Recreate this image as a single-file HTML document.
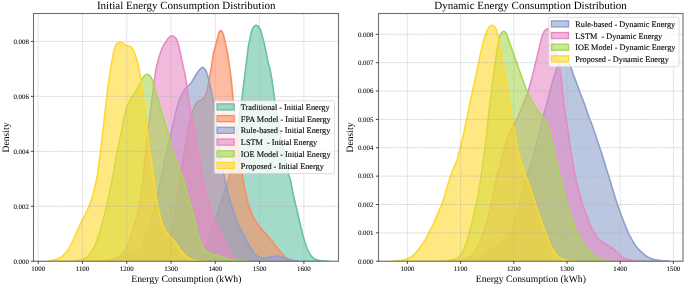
<!DOCTYPE html>
<html><head><meta charset="utf-8"><title>Energy Consumption Distribution</title>
<style>
html,body{margin:0;padding:0;background:#fff;}
body{width:685px;height:285px;overflow:hidden;font-family:"Liberation Serif",serif;}
svg{display:block;will-change:transform;}
svg text{font-family:"Liberation Serif",serif;fill:#000;text-rendering:geometricPrecision;}
.g{stroke:#b0b0b0;stroke-opacity:0.62;stroke-width:0.8;stroke-dasharray:2.25 0.75;}
.gv{stroke-opacity:0.52;}
.t{stroke:#333;stroke-width:0.9;}
.tl{font-size:6.9px;stroke:#000;stroke-width:0.07px;}
.lg{white-space:pre;font-size:8.25px;stroke:#000;stroke-width:0.12px;}
.ti{font-size:11px;}
.al{font-size:9.7px;}
</style></head><body>
<svg width="685" height="285" viewBox="0 0 685 285">
<rect width="685" height="285" fill="#fff"/>
<defs><clipPath id="cl"><rect x="33.5" y="13.5" width="305.0" height="247.75"/></clipPath><clipPath id="cr"><rect x="378.5" y="13.5" width="304.5" height="247.75"/></clipPath></defs>
<g clip-path="url(#cl)">
<path d="M186.00,261.25C187.00,261.17 190.00,261.17 192.00,260.74C194.00,260.32 196.23,259.73 198.00,258.72C199.77,257.71 201.27,256.61 202.60,254.67C203.93,252.73 204.77,250.20 206.00,247.08C207.23,243.97 208.72,239.68 210.00,236.00C211.28,232.32 212.57,228.42 213.70,225.00C214.83,221.58 215.48,219.67 216.80,215.50C218.12,211.33 220.10,204.58 221.60,200.00C223.10,195.42 224.35,192.50 225.80,188.00C227.25,183.50 229.13,177.33 230.30,173.00C231.47,168.67 232.02,165.83 232.80,162.00C233.58,158.17 234.23,154.50 235.00,150.00C235.77,145.50 236.63,140.83 237.40,135.00C238.17,129.17 238.90,120.70 239.60,115.00C240.30,109.30 241.05,104.92 241.60,100.80C242.15,96.68 242.42,94.17 242.90,90.30C243.38,86.43 244.00,81.65 244.50,77.60C245.00,73.55 245.43,69.77 245.90,66.00C246.37,62.23 246.88,58.25 247.30,55.00C247.72,51.75 247.98,49.08 248.40,46.50C248.82,43.92 249.17,42.35 249.80,39.50C250.43,36.65 251.13,31.78 252.20,29.40C253.27,27.02 254.90,25.28 256.20,25.20C257.50,25.12 258.83,26.52 260.00,28.90C261.17,31.28 262.15,35.45 263.20,39.50C264.25,43.55 265.43,49.17 266.30,53.20C267.17,57.23 267.83,61.23 268.40,63.70C268.97,66.17 269.17,65.68 269.70,68.00C270.23,70.32 270.93,73.53 271.60,77.60C272.27,81.67 273.15,88.53 273.70,92.40C274.25,96.27 274.43,97.87 274.90,100.80C275.37,103.73 275.98,106.80 276.50,110.00C277.02,113.20 277.42,116.50 278.00,120.00C278.58,123.50 279.33,127.33 280.00,131.00C280.67,134.67 281.30,138.33 282.00,142.00C282.70,145.67 283.48,149.50 284.20,153.00C284.92,156.50 285.60,159.60 286.30,163.00C287.00,166.40 287.70,170.57 288.40,173.40C289.10,176.23 289.97,177.90 290.50,180.00C291.03,182.10 290.90,182.53 291.60,186.00C292.30,189.47 293.65,196.13 294.70,200.80C295.75,205.47 296.93,209.88 297.90,214.00C298.87,218.12 299.53,221.47 300.50,225.50C301.47,229.53 302.65,234.50 303.70,238.20C304.75,241.90 305.75,245.05 306.80,247.69C307.85,250.33 308.93,252.36 310.00,254.07C311.07,255.77 311.97,256.92 313.20,257.91C314.43,258.91 315.48,259.51 317.40,260.04C319.32,260.56 322.77,260.85 324.70,261.05C326.63,261.25 328.28,261.22 329.00,261.25Z" fill="#66c2a5" fill-opacity="0.6" stroke="#66c2a5" stroke-width="1.6" stroke-linejoin="round"/>
<path d="M140.00,261.25C141.33,261.17 145.50,261.12 148.00,260.74C150.50,260.37 152.92,259.87 155.00,259.02C157.08,258.18 158.83,257.17 160.50,255.68C162.17,254.20 163.67,252.23 165.00,250.12C166.33,248.01 167.40,245.77 168.50,243.04C169.60,240.30 170.68,237.87 171.60,233.70C172.52,229.53 173.23,222.95 174.00,218.00C174.77,213.05 175.47,208.67 176.20,204.00C176.93,199.33 177.77,194.00 178.40,190.00C179.03,186.00 179.32,184.30 180.00,180.00C180.68,175.70 181.75,168.93 182.50,164.20C183.25,159.47 183.83,155.82 184.50,151.60C185.17,147.38 185.88,142.77 186.50,138.90C187.12,135.03 187.63,131.38 188.20,128.40C188.77,125.42 189.13,123.85 189.90,121.00C190.67,118.15 191.90,113.97 192.80,111.30C193.70,108.63 194.37,106.68 195.30,105.00C196.23,103.32 197.20,102.15 198.40,101.20C199.60,100.25 201.23,100.55 202.50,99.30C203.77,98.05 204.95,96.50 206.00,93.70C207.05,90.90 208.10,85.78 208.80,82.50C209.50,79.22 209.73,76.75 210.20,74.00C210.67,71.25 211.10,69.17 211.60,66.00C212.10,62.83 212.65,58.00 213.20,55.00C213.75,52.00 214.38,49.98 214.90,48.00C215.42,46.02 215.72,45.33 216.30,43.10C216.88,40.87 217.85,36.53 218.40,34.60C218.95,32.67 219.20,32.18 219.60,31.50C220.00,30.82 220.40,30.50 220.80,30.50C221.20,30.50 221.58,30.82 222.00,31.50C222.42,32.18 222.73,32.67 223.30,34.60C223.87,36.53 224.85,40.70 225.40,43.10C225.95,45.50 226.20,47.02 226.60,49.00C227.00,50.98 227.30,52.00 227.80,55.00C228.30,58.00 229.07,63.23 229.60,67.00C230.13,70.77 230.52,73.37 231.00,77.60C231.48,81.83 232.13,88.53 232.50,92.40C232.87,96.27 232.82,97.03 233.20,100.80C233.58,104.57 234.25,110.13 234.80,115.00C235.35,119.87 235.92,125.00 236.50,130.00C237.08,135.00 237.68,140.00 238.30,145.00C238.92,150.00 239.57,155.27 240.20,160.00C240.83,164.73 241.43,169.07 242.10,173.40C242.77,177.73 243.32,181.43 244.20,186.00C245.08,190.57 246.35,196.75 247.40,200.80C248.45,204.85 249.68,207.93 250.50,210.30C251.32,212.67 251.02,212.55 252.30,215.00C253.58,217.45 256.22,222.17 258.20,225.00C260.18,227.83 262.20,229.67 264.20,232.00C266.20,234.33 268.50,236.94 270.20,239.00C271.90,241.06 273.00,242.57 274.40,244.35C275.80,246.14 276.97,247.81 278.60,249.71C280.23,251.62 282.63,254.27 284.20,255.79C285.77,257.30 286.70,258.05 288.00,258.82C289.30,259.60 290.50,260.04 292.00,260.44C293.50,260.85 296.17,261.12 297.00,261.25Z" fill="#fc8d62" fill-opacity="0.6" stroke="#fc8d62" stroke-width="1.6" stroke-linejoin="round"/>
<path d="M104.00,261.25C105.17,261.05 108.63,260.54 111.00,260.04C113.37,259.53 115.82,258.97 118.20,258.21C120.58,257.46 123.18,256.16 125.30,255.48C127.42,254.81 129.27,254.52 130.90,254.17C132.53,253.81 133.82,253.86 135.10,253.36C136.38,252.85 137.55,252.21 138.60,251.13C139.65,250.05 140.35,249.00 141.40,246.88C142.45,244.76 143.77,241.30 144.90,238.40C146.03,235.50 147.10,232.90 148.20,229.50C149.30,226.10 150.05,223.25 151.50,218.00C152.95,212.75 155.38,204.00 156.90,198.00C158.42,192.00 159.62,186.33 160.60,182.00C161.58,177.67 162.12,175.50 162.80,172.00C163.48,168.50 163.85,165.25 164.70,161.00C165.55,156.75 166.83,151.25 167.90,146.50C168.97,141.75 170.18,136.42 171.10,132.50C172.02,128.58 172.63,126.35 173.40,123.00C174.17,119.65 174.87,115.75 175.70,112.40C176.53,109.05 177.42,105.88 178.40,102.90C179.38,99.92 180.55,96.78 181.60,94.50C182.65,92.22 183.65,90.62 184.70,89.20C185.75,87.78 186.85,87.05 187.90,86.00C188.95,84.95 189.95,84.30 191.00,82.90C192.05,81.50 192.97,79.53 194.20,77.60C195.43,75.67 197.03,73.03 198.40,71.30C199.77,69.57 201.17,67.37 202.40,67.20C203.63,67.03 204.88,68.73 205.80,70.30C206.72,71.87 207.20,74.15 207.90,76.60C208.60,79.05 209.30,81.85 210.00,85.00C210.70,88.15 211.50,92.17 212.10,95.50C212.70,98.83 213.03,101.25 213.60,105.00C214.17,108.75 214.85,113.50 215.50,118.00C216.15,122.50 216.83,127.33 217.50,132.00C218.17,136.67 218.83,141.33 219.50,146.00C220.17,150.67 220.82,155.43 221.50,160.00C222.18,164.57 222.97,169.77 223.60,173.40C224.23,177.03 224.50,178.28 225.30,181.80C226.10,185.32 227.38,190.67 228.40,194.50C229.42,198.33 230.35,201.30 231.40,204.80C232.45,208.30 233.57,212.30 234.70,215.50C235.83,218.70 236.88,221.10 238.20,224.00C239.52,226.90 241.17,230.01 242.60,232.90C244.03,235.79 245.38,238.66 246.80,241.32C248.22,243.97 249.68,246.59 251.10,248.80C252.52,251.01 253.90,253.15 255.30,254.57C256.70,255.99 257.93,256.71 259.50,257.30C261.07,257.89 262.77,258.18 264.70,258.11C266.63,258.05 268.98,257.25 271.10,256.90C273.22,256.54 275.65,256.02 277.40,255.99C279.15,255.95 280.03,256.22 281.60,256.70C283.17,257.17 284.87,258.18 286.80,258.82C288.73,259.46 291.17,260.14 293.20,260.54C295.23,260.95 298.03,261.13 299.00,261.25Z" fill="#8da0cb" fill-opacity="0.6" stroke="#8da0cb" stroke-width="1.6" stroke-linejoin="round"/>
<path d="M101.00,261.25C102.15,261.05 105.52,260.51 107.90,260.04C110.28,259.56 113.20,259.23 115.30,258.42C117.40,257.61 118.93,256.43 120.50,255.18C122.07,253.93 123.47,252.70 124.70,250.93C125.93,249.16 126.85,247.04 127.90,244.55C128.95,242.07 129.95,239.18 131.00,236.00C132.05,232.82 133.13,229.00 134.20,225.50C135.27,222.00 136.52,218.50 137.40,215.00C138.28,211.50 138.75,209.17 139.50,204.50C140.25,199.83 141.30,191.08 141.90,187.00C142.50,182.92 142.63,184.15 143.10,180.00C143.57,175.85 144.15,167.88 144.70,162.10C145.25,156.32 145.90,150.40 146.40,145.30C146.90,140.20 147.23,135.38 147.70,131.50C148.17,127.62 148.65,126.08 149.20,122.00C149.75,117.92 150.33,112.50 151.00,107.00C151.67,101.50 152.48,94.58 153.20,89.00C153.92,83.42 154.72,77.35 155.30,73.50C155.88,69.65 156.20,68.23 156.70,65.90C157.20,63.57 157.72,61.62 158.30,59.50C158.88,57.38 159.47,55.28 160.20,53.20C160.93,51.12 161.77,48.87 162.70,47.00C163.63,45.13 164.80,43.53 165.80,42.00C166.80,40.47 167.67,38.85 168.70,37.80C169.73,36.75 170.92,35.75 172.00,35.70C173.08,35.65 174.37,36.68 175.20,37.50C176.03,38.32 176.23,38.45 177.00,40.60C177.77,42.75 178.98,47.12 179.80,50.40C180.62,53.68 181.20,57.02 181.90,60.30C182.60,63.58 183.42,67.32 184.00,70.10C184.58,72.88 184.82,73.63 185.40,77.00C185.98,80.37 186.73,85.28 187.50,90.30C188.27,95.32 189.17,101.82 190.00,107.10C190.83,112.38 191.70,117.40 192.50,122.00C193.30,126.60 193.98,130.12 194.80,134.70C195.62,139.28 196.52,144.58 197.40,149.50C198.28,154.42 199.23,159.65 200.10,164.20C200.97,168.75 201.87,173.17 202.60,176.80C203.33,180.43 203.57,182.13 204.50,186.00C205.43,189.87 206.90,195.25 208.20,200.00C209.50,204.75 211.12,210.83 212.30,214.50C213.48,218.17 214.32,219.83 215.30,222.00C216.28,224.17 217.24,225.60 218.20,227.50C219.16,229.40 219.87,230.78 221.05,233.40C222.23,236.02 223.89,240.16 225.30,243.24C226.71,246.31 228.10,249.46 229.50,251.84C230.90,254.22 232.30,256.14 233.70,257.51C235.10,258.87 236.18,259.45 237.90,260.04C239.62,260.63 242.32,260.85 244.00,261.05C245.68,261.25 247.33,261.22 248.00,261.25Z" fill="#e78ac3" fill-opacity="0.6" stroke="#e78ac3" stroke-width="1.6" stroke-linejoin="round"/>
<path d="M74.00,261.25C74.73,261.13 76.78,260.91 78.40,260.54C80.02,260.17 82.12,259.75 83.70,259.02C85.28,258.30 86.50,257.54 87.90,256.19C89.30,254.84 90.87,252.87 92.10,250.93C93.33,248.99 94.25,247.04 95.30,244.55C96.35,242.07 97.35,239.18 98.40,236.00C99.45,232.82 100.63,228.83 101.60,225.50C102.57,222.17 103.33,219.50 104.20,216.00C105.07,212.50 105.83,208.88 106.80,204.50C107.77,200.12 109.03,194.20 110.00,189.70C110.97,185.20 111.72,182.10 112.60,177.50C113.48,172.90 114.33,167.47 115.30,162.10C116.27,156.73 117.35,150.57 118.40,145.30C119.45,140.03 120.77,134.63 121.60,130.50C122.43,126.37 122.73,123.75 123.40,120.50C124.07,117.25 124.83,113.70 125.60,111.00C126.37,108.30 127.15,106.30 128.00,104.30C128.85,102.30 129.67,100.72 130.70,99.00C131.73,97.28 133.03,95.82 134.20,94.00C135.37,92.18 136.77,89.78 137.70,88.10C138.63,86.42 138.98,85.55 139.80,83.90C140.62,82.25 141.77,79.60 142.60,78.20C143.43,76.80 144.05,76.15 144.80,75.50C145.55,74.85 146.30,74.27 147.10,74.30C147.90,74.33 148.77,74.80 149.60,75.70C150.43,76.60 151.15,77.27 152.10,79.70C153.05,82.13 154.25,86.78 155.30,90.30C156.35,93.82 157.35,97.12 158.40,100.80C159.45,104.48 160.52,108.78 161.60,112.40C162.68,116.02 163.85,119.13 164.90,122.50C165.95,125.87 166.87,128.80 167.90,132.60C168.93,136.40 170.05,141.43 171.10,145.30C172.15,149.17 173.15,152.65 174.20,155.80C175.25,158.95 176.35,161.40 177.40,164.20C178.45,167.00 179.45,169.80 180.50,172.60C181.55,175.40 182.47,177.10 183.70,181.00C184.93,184.90 186.68,191.73 187.90,196.00C189.12,200.27 190.07,203.10 191.00,206.60C191.93,210.10 192.78,214.20 193.50,217.00C194.22,219.80 194.48,220.23 195.30,223.40C196.12,226.57 197.35,232.47 198.40,236.00C199.45,239.53 200.55,242.25 201.60,244.55C202.65,246.86 203.48,248.33 204.70,249.82C205.92,251.30 207.13,252.56 208.90,253.46C210.67,254.35 213.18,254.61 215.30,255.18C217.42,255.75 219.50,256.26 221.60,256.90C223.70,257.54 225.80,258.47 227.90,259.02C230.00,259.58 231.40,259.90 234.20,260.24C237.00,260.58 242.23,260.88 244.70,261.05C247.17,261.22 248.28,261.22 249.00,261.25Z" fill="#a6d854" fill-opacity="0.6" stroke="#a6d854" stroke-width="1.6" stroke-linejoin="round"/>
<path d="M46.60,261.25C47.17,261.18 48.77,261.05 50.00,260.85C51.23,260.64 52.67,260.37 54.00,260.04C55.33,259.70 56.83,259.29 58.00,258.82C59.17,258.35 59.78,258.13 61.00,257.20C62.22,256.27 64.12,254.50 65.30,253.26C66.48,252.01 67.05,251.38 68.10,249.71C69.15,248.04 70.43,245.61 71.60,243.24C72.77,240.87 73.82,238.31 75.10,235.50C76.38,232.69 78.15,228.87 79.30,226.40C80.45,223.93 81.07,222.60 82.00,220.70C82.93,218.80 83.75,217.35 84.90,215.00C86.05,212.65 87.63,209.77 88.90,206.60C90.17,203.43 91.43,199.52 92.50,196.00C93.57,192.48 94.48,189.00 95.30,185.50C96.12,182.00 96.88,178.02 97.40,175.00C97.92,171.98 97.88,171.30 98.40,167.40C98.92,163.50 99.87,156.70 100.50,151.60C101.13,146.50 101.60,142.07 102.20,136.80C102.80,131.53 103.33,126.70 104.10,120.00C104.87,113.30 106.00,103.32 106.80,96.60C107.60,89.88 108.23,84.55 108.90,79.70C109.57,74.85 110.27,70.70 110.80,67.50C111.33,64.30 111.53,63.42 112.10,60.50C112.67,57.58 113.50,52.70 114.20,50.00C114.90,47.30 115.42,45.63 116.30,44.30C117.18,42.97 118.45,42.22 119.50,42.00C120.55,41.78 121.55,42.47 122.60,43.00C123.65,43.53 124.45,44.58 125.80,45.20C127.15,45.82 129.47,45.90 130.70,46.70C131.93,47.50 132.23,48.03 133.20,50.00C134.17,51.97 135.62,55.75 136.50,58.50C137.38,61.25 137.83,63.32 138.50,66.50C139.17,69.68 139.82,73.28 140.50,77.60C141.18,81.92 141.90,87.13 142.60,92.40C143.30,97.67 144.08,104.27 144.70,109.20C145.32,114.13 145.77,117.75 146.30,122.00C146.83,126.25 147.28,129.77 147.90,134.70C148.52,139.63 149.30,146.33 150.00,151.60C150.70,156.87 151.52,162.07 152.10,166.30C152.68,170.53 152.97,173.10 153.50,177.00C154.03,180.90 154.62,185.03 155.30,189.70C155.98,194.37 156.73,200.28 157.60,205.00C158.47,209.72 159.67,214.67 160.50,218.00C161.33,221.33 161.55,222.47 162.60,225.00C163.65,227.53 165.38,231.15 166.80,233.20C168.22,235.25 169.68,235.76 171.10,237.30C172.52,238.84 173.90,240.51 175.30,242.43C176.70,244.35 178.10,246.85 179.50,248.80C180.90,250.76 182.13,252.56 183.70,254.17C185.27,255.77 186.97,257.35 188.90,258.42C190.83,259.48 193.18,260.10 195.30,260.54C197.42,260.98 199.98,260.93 201.60,261.05C203.22,261.17 204.43,261.22 205.00,261.25Z" fill="#ffd92f" fill-opacity="0.6" stroke="#ffd92f" stroke-width="1.6" stroke-linejoin="round"/>
</g>
<line x1="38.20" y1="13.5" x2="38.20" y2="261.25" class="g gv"/>
<line x1="82.48" y1="13.5" x2="82.48" y2="261.25" class="g gv"/>
<line x1="126.76" y1="13.5" x2="126.76" y2="261.25" class="g gv"/>
<line x1="171.04" y1="13.5" x2="171.04" y2="261.25" class="g gv"/>
<line x1="215.32" y1="13.5" x2="215.32" y2="261.25" class="g gv"/>
<line x1="259.60" y1="13.5" x2="259.60" y2="261.25" class="g gv"/>
<line x1="303.88" y1="13.5" x2="303.88" y2="261.25" class="g gv"/>
<line x1="33.5" y1="261.25" x2="338.5" y2="261.25" class="g"/>
<line x1="33.5" y1="206.29" x2="338.5" y2="206.29" class="g"/>
<line x1="33.5" y1="151.33" x2="338.5" y2="151.33" class="g"/>
<line x1="33.5" y1="96.37" x2="338.5" y2="96.37" class="g"/>
<line x1="33.5" y1="41.41" x2="338.5" y2="41.41" class="g"/>
<rect x="33.5" y="13.5" width="305.0" height="247.75" fill="none" stroke="#707070" stroke-width="1.1"/>
<line x1="38.20" y1="261.25" x2="38.20" y2="263.85" class="t"/>
<text x="38.20" y="270.5" class="tl" text-anchor="middle">1000</text>
<line x1="82.48" y1="261.25" x2="82.48" y2="263.85" class="t"/>
<text x="82.48" y="270.5" class="tl" text-anchor="middle">1100</text>
<line x1="126.76" y1="261.25" x2="126.76" y2="263.85" class="t"/>
<text x="126.76" y="270.5" class="tl" text-anchor="middle">1200</text>
<line x1="171.04" y1="261.25" x2="171.04" y2="263.85" class="t"/>
<text x="171.04" y="270.5" class="tl" text-anchor="middle">1300</text>
<line x1="215.32" y1="261.25" x2="215.32" y2="263.85" class="t"/>
<text x="215.32" y="270.5" class="tl" text-anchor="middle">1400</text>
<line x1="259.60" y1="261.25" x2="259.60" y2="263.85" class="t"/>
<text x="259.60" y="270.5" class="tl" text-anchor="middle">1500</text>
<line x1="303.88" y1="261.25" x2="303.88" y2="263.85" class="t"/>
<text x="303.88" y="270.5" class="tl" text-anchor="middle">1600</text>
<line x1="30.9" y1="261.25" x2="33.5" y2="261.25" class="t"/>
<text x="28.9" y="263.60" class="tl" text-anchor="end">0.000</text>
<line x1="30.9" y1="206.29" x2="33.5" y2="206.29" class="t"/>
<text x="28.9" y="208.64" class="tl" text-anchor="end">0.002</text>
<line x1="30.9" y1="151.33" x2="33.5" y2="151.33" class="t"/>
<text x="28.9" y="153.68" class="tl" text-anchor="end">0.004</text>
<line x1="30.9" y1="96.37" x2="33.5" y2="96.37" class="t"/>
<text x="28.9" y="98.72" class="tl" text-anchor="end">0.006</text>
<line x1="30.9" y1="41.41" x2="33.5" y2="41.41" class="t"/>
<text x="28.9" y="43.76" class="tl" text-anchor="end">0.008</text>
<rect x="214.3" y="100.7" width="120.19999999999999" height="72.89999999999999" rx="1.8" fill="#fff" fill-opacity="0.8" stroke="#ccc" stroke-opacity="0.8" stroke-width="0.8"/>
<rect x="217.10000000000002" y="103.90" width="17.0" height="6.0" fill="#66c2a5" fill-opacity="0.6" stroke="#66c2a5" stroke-width="1.35"/>
<text x="240.85000000000002" y="109.90" class="lg" xml:space="preserve">Traditional - Initial Energy</text>
<rect x="217.10000000000002" y="115.62" width="17.0" height="6.0" fill="#fc8d62" fill-opacity="0.6" stroke="#fc8d62" stroke-width="1.35"/>
<text x="240.85000000000002" y="121.62" class="lg" xml:space="preserve">FPA Model - Initial Energy</text>
<rect x="217.10000000000002" y="127.34" width="17.0" height="6.0" fill="#8da0cb" fill-opacity="0.6" stroke="#8da0cb" stroke-width="1.35"/>
<text x="240.85000000000002" y="133.34" class="lg" xml:space="preserve">Rule-based - Initial Energy</text>
<rect x="217.10000000000002" y="139.06" width="17.0" height="6.0" fill="#e78ac3" fill-opacity="0.6" stroke="#e78ac3" stroke-width="1.35"/>
<text x="240.85000000000002" y="145.06" class="lg" xml:space="preserve">LSTM  - Initial Energy</text>
<rect x="217.10000000000002" y="150.78" width="17.0" height="6.0" fill="#a6d854" fill-opacity="0.6" stroke="#a6d854" stroke-width="1.35"/>
<text x="240.85000000000002" y="156.78" class="lg" xml:space="preserve">IOE Model - Initial Energy</text>
<rect x="217.10000000000002" y="162.50" width="17.0" height="6.0" fill="#ffd92f" fill-opacity="0.6" stroke="#ffd92f" stroke-width="1.35"/>
<text x="240.85000000000002" y="168.50" class="lg" xml:space="preserve">Proposed - Initial Energy</text>
<text x="186.2" y="9.35" class="ti" text-anchor="middle">Initial Energy Consumption Distribution</text>
<text x="186.3" y="281.65" class="al" text-anchor="middle">Energy Consumption (kWh)</text>
<text transform="translate(9.3,137.5) rotate(-90)" class="al" text-anchor="middle">Density</text>
<g clip-path="url(#cr)">
<path d="M455.00,261.25C456.50,261.15 461.32,260.90 464.00,260.64C466.68,260.39 468.98,260.14 471.10,259.73C473.22,259.33 475.07,258.77 476.70,258.21C478.33,257.66 479.50,257.10 480.90,256.39C482.30,255.68 483.70,254.84 485.10,253.96C486.50,253.09 487.90,252.08 489.30,251.13C490.70,250.19 492.10,249.24 493.50,248.30C494.90,247.35 496.30,246.43 497.70,245.46C499.10,244.50 500.50,243.61 501.90,242.53C503.30,241.45 504.82,240.29 506.10,239.00C507.38,237.71 508.65,236.20 509.60,234.80C510.55,233.40 511.15,232.32 511.80,230.60C512.45,228.88 512.62,227.45 513.50,224.50C514.38,221.55 515.97,216.93 517.10,212.90C518.23,208.87 519.25,204.52 520.30,200.30C521.35,196.08 522.35,191.65 523.40,187.60C524.45,183.55 525.55,179.20 526.60,176.00C527.65,172.80 528.65,171.42 529.70,168.40C530.75,165.38 531.83,161.75 532.90,157.90C533.97,154.05 535.05,149.52 536.10,145.30C537.15,141.08 538.25,136.40 539.20,132.60C540.15,128.80 541.10,125.35 541.80,122.50C542.50,119.65 542.82,117.72 543.40,115.50C543.98,113.28 544.70,111.30 545.30,109.20C545.90,107.10 546.43,105.00 547.00,102.90C547.57,100.80 548.17,98.70 548.70,96.60C549.23,94.50 549.57,92.77 550.20,90.30C550.83,87.83 551.67,84.62 552.50,81.80C553.33,78.98 554.38,75.88 555.20,73.40C556.02,70.92 556.55,68.67 557.40,66.90C558.25,65.13 559.02,63.78 560.30,62.80C561.58,61.82 563.82,61.05 565.10,61.00C566.38,60.95 567.10,61.67 568.00,62.50C568.90,63.33 569.68,64.18 570.50,66.00C571.32,67.82 571.97,70.77 572.90,73.40C573.83,76.03 575.05,78.98 576.10,81.80C577.15,84.62 578.15,87.48 579.20,90.30C580.25,93.12 581.35,95.90 582.40,98.70C583.45,101.50 584.45,104.12 585.50,107.10C586.55,110.08 587.78,114.12 588.70,116.60C589.62,119.08 590.03,119.43 591.00,122.00C591.97,124.57 593.18,128.12 594.50,132.00C595.82,135.88 597.47,140.98 598.90,145.30C600.33,149.62 601.87,154.05 603.10,157.90C604.33,161.75 605.37,165.38 606.30,168.40C607.23,171.42 607.83,173.15 608.70,176.00C609.57,178.85 610.50,182.17 611.50,185.50C612.50,188.83 613.65,192.67 614.70,196.00C615.75,199.33 616.75,202.45 617.80,205.50C618.85,208.55 619.93,211.42 621.00,214.30C622.07,217.18 623.13,220.05 624.20,222.80C625.27,225.55 626.20,228.13 627.40,230.80C628.60,233.47 629.97,236.24 631.40,238.80C632.83,241.36 634.50,244.12 636.00,246.17C637.50,248.23 638.73,249.51 640.40,251.13C642.07,252.75 644.13,254.62 646.00,255.89C647.87,257.15 649.77,258.01 651.60,258.72C653.43,259.43 655.02,259.78 657.00,260.14C658.98,260.49 661.38,260.66 663.50,260.85C665.62,261.03 668.67,261.18 669.70,261.25Z" fill="#8da0cb" fill-opacity="0.6" stroke="#8da0cb" stroke-width="1.6" stroke-linejoin="round"/>
<path d="M450.00,261.25C451.18,261.17 454.87,261.05 457.10,260.74C459.33,260.44 461.47,260.00 463.40,259.43C465.33,258.86 467.12,258.20 468.70,257.30C470.28,256.41 471.67,255.31 472.90,254.07C474.13,252.82 475.05,251.59 476.10,249.82C477.15,248.04 478.15,245.91 479.20,243.44C480.25,240.97 481.35,237.99 482.40,235.00C483.45,232.01 484.45,228.83 485.50,225.50C486.55,222.17 487.82,218.33 488.70,215.00C489.58,211.67 490.10,208.67 490.80,205.50C491.50,202.33 492.20,199.33 492.90,196.00C493.60,192.67 494.30,189.00 495.00,185.50C495.70,182.00 496.40,177.85 497.10,175.00C497.80,172.15 498.32,171.60 499.20,168.40C500.08,165.20 501.17,160.37 502.40,155.80C503.63,151.23 505.20,145.22 506.60,141.00C508.00,136.78 509.43,133.50 510.80,130.50C512.17,127.50 513.75,124.97 514.80,123.00C515.85,121.03 516.18,120.65 517.10,118.70C518.02,116.75 519.25,113.77 520.30,111.30C521.35,108.83 522.35,106.53 523.40,103.90C524.45,101.27 525.72,97.95 526.60,95.50C527.48,93.05 527.98,91.48 528.70,89.20C529.42,86.92 530.18,84.43 530.90,81.80C531.62,79.17 532.38,75.87 533.00,73.40C533.62,70.93 534.03,69.32 534.60,67.00C535.17,64.68 535.72,62.33 536.40,59.50C537.08,56.67 537.98,52.98 538.70,50.00C539.42,47.02 540.08,44.05 540.70,41.60C541.32,39.15 541.77,37.05 542.40,35.30C543.03,33.55 543.70,32.17 544.50,31.10C545.30,30.03 546.28,28.83 547.20,28.90C548.12,28.97 549.12,29.72 550.00,31.50C550.88,33.28 551.70,36.68 552.50,39.60C553.30,42.52 554.10,46.18 554.80,49.00C555.50,51.82 555.97,53.67 556.70,56.50C557.43,59.33 558.43,62.13 559.20,66.00C559.97,69.87 560.60,74.25 561.30,79.70C562.00,85.15 562.70,92.73 563.40,98.70C564.10,104.67 564.98,111.62 565.50,115.50C566.02,119.38 565.98,118.80 566.50,122.00C567.02,125.20 567.90,130.12 568.60,134.70C569.30,139.28 570.00,144.93 570.70,149.50C571.40,154.07 572.12,158.02 572.80,162.10C573.48,166.18 574.02,169.93 574.80,174.00C575.58,178.07 576.52,182.47 577.50,186.50C578.48,190.53 579.65,194.58 580.70,198.20C581.75,201.82 582.68,204.98 583.80,208.20C584.92,211.42 586.23,214.45 587.40,217.50C588.57,220.55 589.63,224.00 590.80,226.50C591.97,229.00 593.23,230.53 594.40,232.50C595.57,234.47 596.37,236.63 597.80,238.30C599.23,239.97 601.20,241.27 603.00,242.53C604.80,243.79 606.72,244.67 608.60,245.87C610.48,247.07 612.65,248.37 614.30,249.71C615.95,251.06 617.10,252.67 618.50,253.96C619.90,255.26 621.07,256.56 622.70,257.51C624.33,258.45 625.97,259.07 628.30,259.63C630.63,260.19 634.42,260.58 636.70,260.85C638.98,261.12 641.12,261.18 642.00,261.25Z" fill="#e78ac3" fill-opacity="0.6" stroke="#e78ac3" stroke-width="1.6" stroke-linejoin="round"/>
<path d="M441.00,261.25C441.93,261.17 444.45,261.05 446.60,260.74C448.75,260.44 451.97,260.00 453.90,259.43C455.83,258.86 456.97,258.20 458.20,257.30C459.43,256.41 460.25,255.67 461.30,254.07C462.35,252.46 463.52,249.98 464.50,247.69C465.48,245.40 466.40,242.75 467.20,240.30C468.00,237.86 468.53,235.82 469.30,233.00C470.07,230.18 471.03,226.40 471.80,223.40C472.57,220.40 473.37,217.45 473.90,215.00C474.43,212.55 474.47,211.15 475.00,208.70C475.53,206.25 476.40,203.82 477.10,200.30C477.80,196.78 478.50,191.82 479.20,187.60C479.90,183.38 480.77,178.55 481.30,175.00C481.83,171.45 481.87,170.20 482.40,166.30C482.93,162.40 483.80,156.87 484.50,151.60C485.20,146.33 486.08,139.13 486.60,134.70C487.12,130.27 487.25,128.55 487.60,125.00C487.95,121.45 488.17,118.13 488.70,113.40C489.23,108.67 490.10,102.22 490.80,96.60C491.50,90.98 492.20,84.97 492.90,79.70C493.60,74.43 494.47,68.90 495.00,65.00C495.53,61.10 495.57,59.85 496.10,56.30C496.63,52.75 497.53,47.20 498.20,43.70C498.87,40.20 499.30,37.35 500.10,35.30C500.90,33.25 501.98,31.72 503.00,31.40C504.02,31.08 505.23,31.88 506.20,33.40C507.17,34.92 507.80,37.73 508.80,40.50C509.80,43.27 511.02,46.67 512.20,50.00C513.38,53.33 514.73,57.17 515.90,60.50C517.07,63.83 518.38,67.68 519.20,70.00C520.02,72.32 520.10,72.43 520.80,74.40C521.50,76.37 522.48,79.33 523.40,81.80C524.32,84.27 525.25,86.73 526.30,89.20C527.35,91.67 528.60,94.32 529.70,96.60C530.80,98.88 531.83,100.97 532.90,102.90C533.97,104.83 535.05,106.62 536.10,108.20C537.15,109.78 538.15,111.00 539.20,112.40C540.25,113.80 541.37,115.25 542.40,116.60C543.43,117.95 544.35,118.53 545.40,120.50C546.45,122.47 547.63,124.98 548.70,128.40C549.77,131.82 550.75,136.43 551.80,141.00C552.85,145.57 553.93,150.88 555.00,155.80C556.07,160.72 557.37,166.80 558.20,170.50C559.03,174.20 559.33,175.50 560.00,178.00C560.67,180.50 561.32,182.13 562.20,185.50C563.08,188.87 564.25,194.28 565.30,198.20C566.35,202.12 567.38,205.53 568.50,209.00C569.62,212.47 570.88,215.92 572.00,219.00C573.12,222.08 573.95,224.50 575.20,227.50C576.45,230.50 578.00,234.12 579.50,237.00C581.00,239.88 582.72,242.47 584.20,244.76C585.68,247.04 587.00,248.99 588.40,250.73C589.80,252.46 591.20,253.96 592.60,255.18C594.00,256.39 595.03,257.22 596.80,258.01C598.57,258.80 601.08,259.45 603.20,259.93C605.32,260.42 607.87,260.73 609.50,260.95C611.13,261.17 612.42,261.20 613.00,261.25Z" fill="#a6d854" fill-opacity="0.6" stroke="#a6d854" stroke-width="1.6" stroke-linejoin="round"/>
<path d="M391.80,261.25C392.50,261.18 394.13,261.06 396.00,260.85C397.87,260.63 400.95,260.37 403.00,259.93C405.05,259.50 406.65,258.94 408.30,258.21C409.95,257.49 411.43,256.73 412.90,255.58C414.37,254.44 415.70,253.00 417.10,251.33C418.50,249.66 419.90,247.59 421.30,245.57C422.70,243.54 424.10,241.63 425.50,239.20C426.90,236.77 428.30,233.73 429.70,231.00C431.10,228.27 432.52,225.80 433.90,222.80C435.28,219.80 436.77,215.88 438.00,213.00C439.23,210.12 440.22,208.33 441.30,205.50C442.38,202.67 443.45,199.33 444.50,196.00C445.55,192.67 446.60,188.83 447.60,185.50C448.60,182.17 449.45,179.00 450.50,176.00C451.55,173.00 452.80,170.17 453.90,167.50C455.00,164.83 456.03,163.35 457.10,160.00C458.17,156.65 459.25,151.62 460.30,147.40C461.35,143.18 462.45,138.93 463.40,134.70C464.35,130.47 465.12,126.25 466.00,122.00C466.88,117.75 467.73,113.78 468.70,109.20C469.67,104.62 470.75,99.42 471.80,94.50C472.85,89.58 473.93,84.62 475.00,79.70C476.07,74.78 477.45,68.55 478.20,65.00C478.95,61.45 478.90,61.25 479.50,58.40C480.10,55.55 481.05,51.05 481.80,47.90C482.55,44.75 483.30,41.95 484.00,39.50C484.70,37.05 485.18,35.23 486.00,33.20C486.82,31.17 487.93,28.63 488.90,27.30C489.87,25.97 490.78,25.20 491.80,25.20C492.82,25.20 494.12,26.15 495.00,27.30C495.88,28.45 496.50,30.07 497.10,32.10C497.70,34.13 498.12,36.70 498.60,39.50C499.08,42.30 499.43,45.57 500.00,48.90C500.57,52.23 501.33,55.98 502.00,59.50C502.67,63.02 503.22,65.92 504.00,70.00C504.78,74.08 505.78,78.52 506.70,84.00C507.62,89.48 508.52,96.57 509.50,102.90C510.48,109.23 511.68,116.82 512.60,122.00C513.52,127.18 514.07,129.07 515.00,134.00C515.93,138.93 516.97,146.22 518.20,151.60C519.43,156.98 521.18,162.40 522.40,166.30C523.62,170.20 524.45,172.15 525.50,175.00C526.55,177.85 527.65,180.42 528.70,183.40C529.75,186.38 530.75,189.73 531.80,192.90C532.85,196.07 533.90,199.13 535.00,202.40C536.10,205.67 537.28,209.17 538.40,212.50C539.52,215.83 540.60,219.32 541.70,222.40C542.80,225.48 543.88,228.02 545.00,231.00C546.12,233.98 547.30,237.52 548.40,240.30C549.50,243.09 550.55,245.57 551.60,247.69C552.65,249.82 553.48,251.45 554.70,253.05C555.92,254.66 557.48,256.21 558.90,257.30C560.32,258.40 561.43,259.06 563.20,259.63C564.97,260.20 567.58,260.51 569.50,260.74C571.42,260.98 573.28,260.96 574.70,261.05C576.12,261.13 577.45,261.22 578.00,261.25Z" fill="#ffd92f" fill-opacity="0.6" stroke="#ffd92f" stroke-width="1.6" stroke-linejoin="round"/>
</g>
<line x1="407.40" y1="13.5" x2="407.40" y2="261.25" class="g gv"/>
<line x1="460.60" y1="13.5" x2="460.60" y2="261.25" class="g gv"/>
<line x1="513.80" y1="13.5" x2="513.80" y2="261.25" class="g gv"/>
<line x1="567.00" y1="13.5" x2="567.00" y2="261.25" class="g gv"/>
<line x1="620.20" y1="13.5" x2="620.20" y2="261.25" class="g gv"/>
<line x1="673.40" y1="13.5" x2="673.40" y2="261.25" class="g gv"/>
<line x1="378.5" y1="261.25" x2="683.0" y2="261.25" class="g"/>
<line x1="378.5" y1="232.88" x2="683.0" y2="232.88" class="g"/>
<line x1="378.5" y1="204.51" x2="683.0" y2="204.51" class="g"/>
<line x1="378.5" y1="176.14" x2="683.0" y2="176.14" class="g"/>
<line x1="378.5" y1="147.77" x2="683.0" y2="147.77" class="g"/>
<line x1="378.5" y1="119.40" x2="683.0" y2="119.40" class="g"/>
<line x1="378.5" y1="91.03" x2="683.0" y2="91.03" class="g"/>
<line x1="378.5" y1="62.66" x2="683.0" y2="62.66" class="g"/>
<line x1="378.5" y1="34.29" x2="683.0" y2="34.29" class="g"/>
<rect x="378.5" y="13.5" width="304.5" height="247.75" fill="none" stroke="#707070" stroke-width="1.1"/>
<line x1="407.40" y1="261.25" x2="407.40" y2="263.85" class="t"/>
<text x="407.40" y="270.5" class="tl" text-anchor="middle">1000</text>
<line x1="460.60" y1="261.25" x2="460.60" y2="263.85" class="t"/>
<text x="460.60" y="270.5" class="tl" text-anchor="middle">1100</text>
<line x1="513.80" y1="261.25" x2="513.80" y2="263.85" class="t"/>
<text x="513.80" y="270.5" class="tl" text-anchor="middle">1200</text>
<line x1="567.00" y1="261.25" x2="567.00" y2="263.85" class="t"/>
<text x="567.00" y="270.5" class="tl" text-anchor="middle">1300</text>
<line x1="620.20" y1="261.25" x2="620.20" y2="263.85" class="t"/>
<text x="620.20" y="270.5" class="tl" text-anchor="middle">1400</text>
<line x1="673.40" y1="261.25" x2="673.40" y2="263.85" class="t"/>
<text x="673.40" y="270.5" class="tl" text-anchor="middle">1500</text>
<line x1="375.9" y1="261.25" x2="378.5" y2="261.25" class="t"/>
<text x="373.4" y="263.60" class="tl" text-anchor="end">0.000</text>
<line x1="375.9" y1="232.88" x2="378.5" y2="232.88" class="t"/>
<text x="373.4" y="235.23" class="tl" text-anchor="end">0.001</text>
<line x1="375.9" y1="204.51" x2="378.5" y2="204.51" class="t"/>
<text x="373.4" y="206.86" class="tl" text-anchor="end">0.002</text>
<line x1="375.9" y1="176.14" x2="378.5" y2="176.14" class="t"/>
<text x="373.4" y="178.49" class="tl" text-anchor="end">0.003</text>
<line x1="375.9" y1="147.77" x2="378.5" y2="147.77" class="t"/>
<text x="373.4" y="150.12" class="tl" text-anchor="end">0.004</text>
<line x1="375.9" y1="119.40" x2="378.5" y2="119.40" class="t"/>
<text x="373.4" y="121.75" class="tl" text-anchor="end">0.005</text>
<line x1="375.9" y1="91.03" x2="378.5" y2="91.03" class="t"/>
<text x="373.4" y="93.38" class="tl" text-anchor="end">0.006</text>
<line x1="375.9" y1="62.66" x2="378.5" y2="62.66" class="t"/>
<text x="373.4" y="65.01" class="tl" text-anchor="end">0.007</text>
<line x1="375.9" y1="34.29" x2="378.5" y2="34.29" class="t"/>
<text x="373.4" y="36.64" class="tl" text-anchor="end">0.008</text>
<rect x="548.7" y="17.3" width="130.29999999999995" height="49.5" rx="1.8" fill="#fff" fill-opacity="0.8" stroke="#ccc" stroke-opacity="0.8" stroke-width="0.8"/>
<rect x="551.5" y="20.90" width="17.0" height="6.0" fill="#8da0cb" fill-opacity="0.6" stroke="#8da0cb" stroke-width="1.35"/>
<text x="575.25" y="26.90" class="lg" xml:space="preserve">Rule-based - Dynamic Energy</text>
<rect x="551.5" y="32.55" width="17.0" height="6.0" fill="#e78ac3" fill-opacity="0.6" stroke="#e78ac3" stroke-width="1.35"/>
<text x="575.25" y="38.55" class="lg" xml:space="preserve">LSTM  - Dynamic Energy</text>
<rect x="551.5" y="44.20" width="17.0" height="6.0" fill="#a6d854" fill-opacity="0.6" stroke="#a6d854" stroke-width="1.35"/>
<text x="575.25" y="50.20" class="lg" xml:space="preserve">IOE Model - Dynamic Energy</text>
<rect x="551.5" y="55.85" width="17.0" height="6.0" fill="#ffd92f" fill-opacity="0.6" stroke="#ffd92f" stroke-width="1.35"/>
<text x="575.25" y="61.85" class="lg" xml:space="preserve">Proposed - Dynamic Energy</text>
<text x="530.5" y="9.35" class="ti" text-anchor="middle">Dynamic Energy Consumption Distribution</text>
<text x="530.8" y="281.65" class="al" text-anchor="middle">Energy Consumption (kWh)</text>
<text transform="translate(353.4,137.5) rotate(-90)" class="al" text-anchor="middle">Density</text>
</svg>
</body></html>
